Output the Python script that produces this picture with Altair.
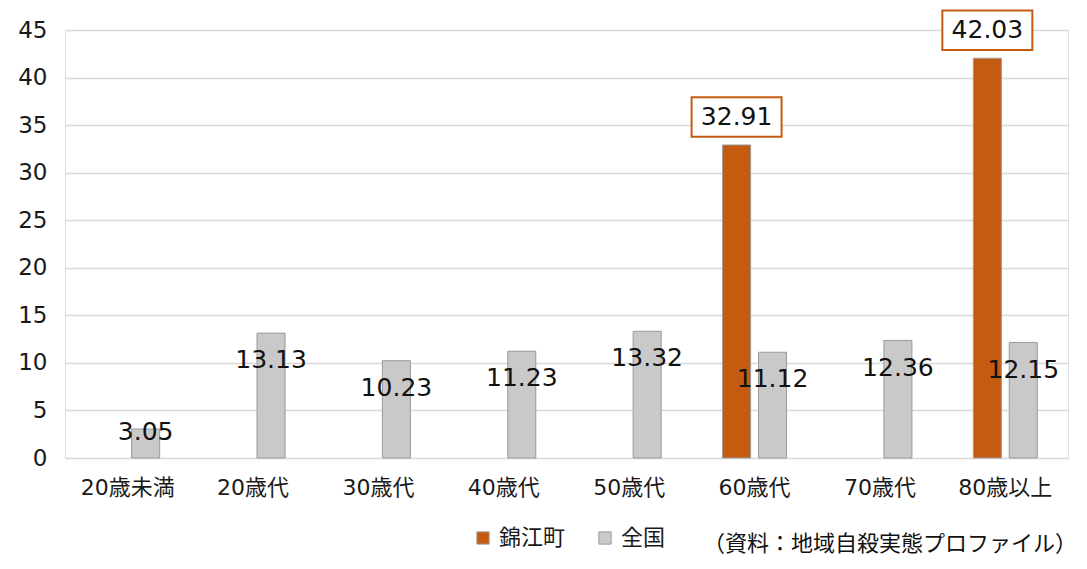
import altair as alt
import pandas as pd

categories = ["20歳未満", "20歳代", "30歳代", "40歳代", "50歳代", "60歳代", "70歳代", "80歳以上"]
series = ["錦江町", "全国"]
kinkou = [0, 0, 0, 0, 0, 32.91, 0, 42.03]
zenkoku = [3.05, 13.13, 10.23, 11.23, 13.32, 11.12, 12.36, 12.15]
y_ticks = [0, 5, 10, 15, 20, 25, 30, 35, 40, 45]
source_note = "（資料：地域自殺実態プロファイル）"

rows = []
for c, a, b in zip(categories, kinkou, zenkoku):
    rows.append({"cat": c, "series": series[0], "value": a})
    rows.append({"cat": c, "series": series[1], "value": b})
df = pd.DataFrame(rows)

FONT = "DejaVu Sans, Noto Sans CJK JP"
CJK = "Noto Sans CJK JP"
NUM = "DejaVu Sans"
ORANGE = "#C55A11"
GRAY = "#C9C9C9"

xenc = alt.X("cat:N", sort=categories,
             scale=alt.Scale(paddingInner=0.49, paddingOuter=0.245),
             axis=alt.Axis(title=None, labelAngle=0, ticks=False, domain=False,
                           labelFontSize=22, labelPadding=19, labelColor="#1a1a1a",
                           labelFont=FONT))
xoff = alt.XOffset("series:N", sort=series,
                   scale=alt.Scale(domain=series, paddingInner=0.22, paddingOuter=0))
yscale = alt.Scale(domain=[0, 45])

base = alt.Chart(df).encode(x=xenc, xOffset=xoff)

bars = base.transform_filter("datum.value > 0").mark_bar(
    stroke="#9a9a9a", strokeWidth=1
).encode(
    y=alt.Y("value:Q", scale=yscale,
            axis=alt.Axis(values=y_ticks, title=None, domain=False, ticks=False,
                          gridColor="#d9d9d9", gridWidth=1.5, labelFontSize=23,
                          labelPadding=18, labelColor="#1a1a1a", labelFont=NUM)),
    color=alt.Color("series:N", sort=series,
                    scale=alt.Scale(domain=series, range=[ORANGE, GRAY]),
                    legend=alt.Legend(title=None, orient="none", legendX=407, legendY=497,
                                      direction="horizontal", symbolType="square",
                                      symbolSize=150, symbolStrokeColor="#9a9a9a",
                                      symbolStrokeWidth=1,
                                      labelFontSize=22, labelFont=CJK, labelColor="#1a1a1a",
                                      labelOffset=5, columnPadding=28)),
)

gray_labels = base.transform_filter(
    alt.datum.series == "全国"
).transform_calculate(
    ly="datum.value > 5 ? datum.value - 2.85 : datum.value - 0.3"
).mark_text(fontSize=25, font=NUM, color="#111111", baseline="middle").encode(
    y=alt.Y("ly:Q", scale=yscale),
    text=alt.Text("value:Q", format=".2f"),
)

orange_sel = base.transform_filter(
    (alt.datum.series == "錦江町") & (alt.datum.value > 0)
)

boxes = orange_sel.mark_point(
    shape="M-1,-0.44L1,-0.44L1,0.44L-1,0.44Z", size=8100, filled=True,
    fill="white", stroke=ORANGE, strokeWidth=2, opacity=1, yOffset=-28
).encode(y=alt.Y("value:Q", scale=yscale))

orange_labels = orange_sel.mark_text(
    fontSize=25, font=NUM, color="#111111", baseline="middle", dy=-28
).encode(y=alt.Y("value:Q", scale=yscale), text=alt.Text("value:Q", format=".2f"))

note = alt.Chart(pd.DataFrame({"t": [source_note]})).mark_text(
    align="right", baseline="middle", fontSize=22, font=CJK, color="#111111"
).encode(x=alt.value(1012), y=alt.value(514), text="t:N")

chart = alt.layer(bars, gray_labels, boxes, orange_labels, note).properties(
    width=1003, height=428,
    autosize=alt.AutoSizeParams(type="none"),
    padding={"left": 57, "top": 22, "right": 11, "bottom": 103},
).configure_view(stroke=None).configure(font=FONT)

chart.save("out.html", embed_options={"renderer": "svg", "actions": False})
